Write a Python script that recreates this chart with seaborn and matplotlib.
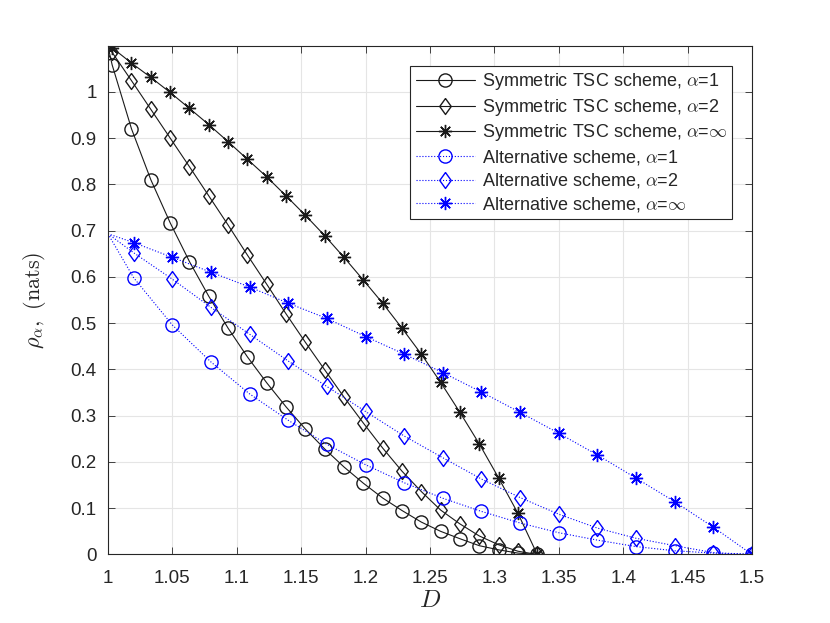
import numpy as np
import matplotlib
matplotlib.use('Agg')
import matplotlib.pyplot as plt
import seaborn as sns

#------Data

x_tsc = [1.0, 1.0033, 1.0183, 1.0333, 1.0483, 1.0633, 1.0783, 1.0933, 1.1083,
         1.1233, 1.1383, 1.1533, 1.1683, 1.1833, 1.1983, 1.2133, 1.2283, 1.2433,
         1.2583, 1.2733, 1.2883, 1.3033, 1.3183, 1.3333]
tsc_a1 = [1.0986, 1.058, 0.92, 0.81, 0.717, 0.633, 0.558, 0.489, 0.427, 0.371,
          0.319, 0.271, 0.228, 0.189, 0.154, 0.122, 0.095, 0.070, 0.050, 0.034,
          0.019, 0.010, 0.003, 0.0]
tsc_a2 = [1.0986, 1.085, 1.024, 0.962, 0.900, 0.838, 0.775, 0.712, 0.647, 0.584,
          0.520, 0.4585, 0.399, 0.340, 0.284, 0.230, 0.180, 0.136, 0.096, 0.066,
          0.040, 0.021, 0.007, 0.0]
tsc_inf = [1.0986, 1.095, 1.062, 1.031, 0.9985, 0.964, 0.929, 0.892, 0.854, 0.816,
           0.775, 0.733, 0.689, 0.642, 0.593, 0.543, 0.489, 0.433, 0.372, 0.307,
           0.239, 0.1655, 0.089, 0.0]

x_alt = [1.0, 1.02, 1.05, 1.08, 1.11, 1.14, 1.17, 1.2, 1.23, 1.26, 1.29, 1.32,
         1.35, 1.38, 1.41, 1.44, 1.47, 1.5]
alt_a1 = [0.6931, 0.598, 0.496, 0.416, 0.347, 0.290, 0.238, 0.194, 0.155, 0.1215,
          0.093, 0.068, 0.047, 0.031, 0.017, 0.008, 0.003, 0.0]
alt_a2 = [0.6931, 0.652, 0.595, 0.534, 0.476, 0.418, 0.363, 0.309, 0.256, 0.209,
          0.163, 0.123, 0.087, 0.057, 0.035, 0.019, 0.004, 0.0]
alt_inf = [0.6931, 0.674, 0.642, 0.610, 0.578, 0.543, 0.510, 0.471, 0.433, 0.393,
           0.351, 0.307, 0.262, 0.215, 0.165, 0.114, 0.059, 0.0]

x_ticks = [1, 1.05, 1.1, 1.15, 1.2, 1.25, 1.3, 1.35, 1.4, 1.45, 1.5]
x_ticklabels = ['1', '1.05', '1.1', '1.15', '1.2', '1.25', '1.3', '1.35', '1.4', '1.45', '1.5']
y_ticks = [0, 0.1, 0.2, 0.3, 0.4, 0.5, 0.6, 0.7, 0.8, 0.9, 1]
y_ticklabels = ['0', '0.1', '0.2', '0.3', '0.4', '0.5', '0.6', '0.7', '0.8', '0.9', '1']

#-------Settings

sns.set_theme(style="whitegrid")
plt.rcParams['font.family'] = ['Liberation Sans', 'DejaVu Sans']
plt.rcParams['mathtext.fontset'] = 'cm'
plt.rcParams['xtick.direction'] = 'in'
plt.rcParams['ytick.direction'] = 'in'

diamond = [(0, 1), (0.72, 0), (0, -1), (-0.72, 0), (0, 1)]
star = (8, 2, 0)

series = [
    (x_tsc, tsc_a1, 'o', 'k', '-', r'Symmetric TSC scheme, $\alpha$=1', 9.5),
    (x_tsc, tsc_a2, diamond, 'k', '-', r'Symmetric TSC scheme, $\alpha$=2', 11.5),
    (x_tsc, tsc_inf, star, 'k', '-', r'Symmetric TSC scheme, $\alpha$=$\infty$', 9.5),
    (x_alt, alt_a1, 'o', 'blue', ':', r'Alternative scheme, $\alpha$=1', 9.5),
    (x_alt, alt_a2, diamond, 'blue', ':', r'Alternative scheme, $\alpha$=2', 11.5),
    (x_alt, alt_inf, star, 'blue', ':', r'Alternative scheme, $\alpha$=$\infty$', 9.5),
]

fig = plt.figure(figsize=(8.3, 6.23), dpi=100)
ax = fig.add_axes([0.130, 0.110, 0.776, 0.816])

for xs, ys, mk, col, ls, lab, ms in series:
    sns.lineplot(x=xs, y=ys, ax=ax, color=col, linestyle=ls, linewidth=0.8,
                 marker=mk, markersize=ms, markerfacecolor='none',
                 markeredgecolor=col, markeredgewidth=1.0,
                 markevery=list(range(1, len(xs))), label=lab, legend=False)

ax.set_xlim(1, 1.5)
ax.set_ylim(0, np.log(3))
ax.set_xticks(x_ticks)
ax.set_xticklabels(x_ticklabels)
ax.set_yticks(y_ticks)
ax.set_yticklabels(y_ticklabels)
ax.tick_params(axis='both', labelsize=13.5, colors='#262626', length=5, width=0.6,
               top=True, right=True, bottom=True, left=True)
ax.tick_params(axis='x', pad=11)
ax.tick_params(axis='y', pad=8)
ax.grid(True, color='#e5e5e5', linewidth=0.8)
for sp in ax.spines.values():
    sp.set_color('#262626')
    sp.set_linewidth(0.8)

ax.set_xlabel(r'$D$', fontsize=18, color='#262626', labelpad=1)
ax.set_ylabel(r'$\rho_{\alpha},\ \mathrm{(nats)}$', fontsize=16, color='#262626', labelpad=16)

leg = ax.legend(loc='upper right', bbox_to_anchor=(0.969, 0.961), borderaxespad=0,
                fontsize=13, frameon=True, fancybox=False, handlelength=3.3,
                labelspacing=0.25, borderpad=0.3, handletextpad=0.35)
leg.get_frame().set_edgecolor('#262626')
leg.get_frame().set_linewidth(0.8)
leg.get_frame().set_alpha(1)

plt.savefig('out.png', dpi=100)
plt.close()
